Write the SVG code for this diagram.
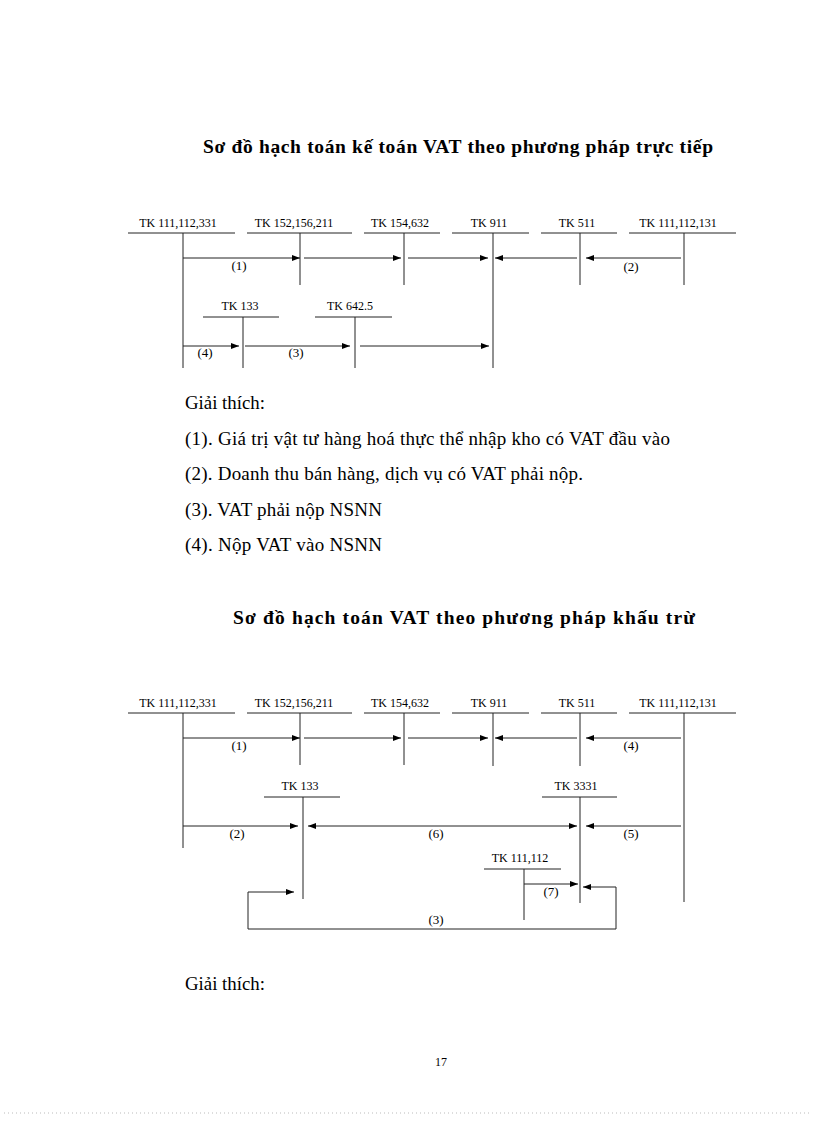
<svg xmlns="http://www.w3.org/2000/svg" width="816" height="1123" viewBox="0 0 816 1123">
<style>
text{font-family:"Liberation Serif","Times New Roman",serif;fill:#000}
.title{font-size:19.5px;font-weight:bold}
.body{font-size:19px}
.lbl{font-size:12px;text-anchor:middle}
.num{font-size:13px;text-anchor:middle}
.ln{stroke:#222;stroke-width:1;fill:none}
.ar{stroke:#222;stroke-width:1;fill:none;marker-end:url(#ah)}
.ar2{stroke:#222;stroke-width:1;fill:none;marker-end:url(#ah);marker-start:url(#ahs)}
</style>
<defs>
<marker id="ah" markerUnits="userSpaceOnUse" markerWidth="9" markerHeight="7" refX="8" refY="3" orient="auto"><path d="M0,0 L8,3 L0,6 z" fill="#000"/></marker>
<marker id="ahs" markerUnits="userSpaceOnUse" markerWidth="9" markerHeight="7" refX="8" refY="3" orient="auto-start-reverse"><path d="M0,0 L8,3 L0,6 z" fill="#000"/></marker>
</defs>
<rect width="816" height="1123" fill="#fff"/>

<text class="title" x="203" y="153" textLength="510" lengthAdjust="spacing">Sơ đồ hạch toán kế toán VAT theo phương pháp trực tiếp</text>

<g id="top-nodes">
<g id="t-a"><text class="lbl" x="178" y="227">TK 111,112,331</text><path class="ln" d="M128,233H235M183,233V368"/></g>
<g id="t-b"><text class="lbl" x="294" y="227">TK 152,156,211</text><path class="ln" d="M247,233H352M300,233V285"/></g>
<g id="t-c"><text class="lbl" x="400" y="227">TK 154,632</text><path class="ln" d="M364,233H440M404,233V285"/></g>
<g id="t-d"><text class="lbl" x="489" y="227">TK 911</text><path class="ln" d="M452,233H529M493,233V368"/></g>
<g id="t-e"><text class="lbl" x="577" y="227">TK 511</text><path class="ln" d="M541,233H617M580,233V285"/></g>
<g id="t-f"><text class="lbl" x="678" y="227">TK 111,112,131</text><path class="ln" d="M629,233H736M684,233V285"/></g>
<g id="t-g"><text class="lbl" x="240" y="310">TK 133</text><path class="ln" d="M203,317H279M243,317V368"/></g>
<g id="t-h"><text class="lbl" x="350" y="310">TK 642.5</text><path class="ln" d="M315,317H392M355,317V368"/></g>
</g>

<g id="top-connectors">
<path class="ar" d="M183,258H300"/>
<path class="ar" d="M304,258H401"/>
<path class="ar" d="M408,258H488"/>
<path class="ar" d="M577,258H495"/>
<path class="ar" d="M681,258H586"/>
<path class="ar" d="M183,346H239"/>
<path class="ar" d="M245,346H350"/>
<path class="ar" d="M360,346H489"/>
<text class="num" x="239" y="270">(1)</text>
<text class="num" x="631" y="271">(2)</text>
<text class="num" x="205" y="357">(4)</text>
<text class="num" x="296" y="357">(3)</text>
</g>

<g id="legend-top">
<text class="body" x="185" y="409" textLength="80" lengthAdjust="spacingAndGlyphs">Giải thích:</text>
<text class="body" x="185" y="445" textLength="485" lengthAdjust="spacing">(1). Giá trị vật tư hàng hoá thực thể nhập kho có VAT đầu vào</text>
<text class="body" x="185" y="480" textLength="398" lengthAdjust="spacing">(2). Doanh thu bán hàng, dịch vụ có VAT phải nộp.</text>
<text class="body" x="185" y="516" textLength="197" lengthAdjust="spacing">(3). VAT phải nộp NSNN</text>
<text class="body" x="185" y="551" textLength="197" lengthAdjust="spacing">(4). Nộp VAT vào NSNN</text>
</g>

<text class="title" x="233" y="624" textLength="462" lengthAdjust="spacing">Sơ đồ hạch toán VAT theo phương pháp khấu trừ</text>

<g id="bottom-nodes">
<g id="b-a"><text class="lbl" x="178" y="707">TK 111,112,331</text><path class="ln" d="M128,713H235M183,713V848"/></g>
<g id="b-b"><text class="lbl" x="294" y="707">TK 152,156,211</text><path class="ln" d="M247,713H352M300,713V765"/></g>
<g id="b-c"><text class="lbl" x="400" y="707">TK 154,632</text><path class="ln" d="M364,713H440M404,713V765"/></g>
<g id="b-d"><text class="lbl" x="489" y="707">TK 911</text><path class="ln" d="M452,713H529M493,713V766"/></g>
<g id="b-e"><text class="lbl" x="577" y="707">TK 511</text><path class="ln" d="M541,713H617M580,713V766"/></g>
<g id="b-f"><text class="lbl" x="678" y="707">TK 111,112,131</text><path class="ln" d="M629,713H736M684,713V902"/></g>
<g id="b-g"><text class="lbl" x="300" y="790">TK 133</text><path class="ln" d="M264,797H340M303,797V899"/></g>
<g id="b-h"><text class="lbl" x="576" y="790">TK 3331</text><path class="ln" d="M542,797H617M580,797V903"/></g>
<g id="b-i"><text class="lbl" x="520" y="862">TK 111,112</text><path class="ln" d="M484,869H561M524,869V920"/></g>
</g>

<g id="bottom-connectors">
<path class="ar" d="M183,738H300"/>
<path class="ar" d="M304,738H401"/>
<path class="ar" d="M408,738H488"/>
<path class="ar" d="M577,738H495"/>
<path class="ar" d="M681,738H586"/>
<path class="ar" d="M183,826H298"/>
<path class="ar2" d="M308,826H577"/>
<path class="ar" d="M681,826H586"/>
<path class="ar" d="M524,884H578"/>
<path class="ar2" d="M583,887H616V929H248V892H294"/>
<text class="num" x="239" y="750">(1)</text>
<text class="num" x="631" y="750">(4)</text>
<text class="num" x="237" y="838">(2)</text>
<text class="num" x="436" y="838">(6)</text>
<text class="num" x="631" y="838">(5)</text>
<text class="num" x="551" y="896">(7)</text>
<text class="num" x="436" y="924">(3)</text>
</g>

<text class="body" x="185" y="990" textLength="80" lengthAdjust="spacingAndGlyphs">Giải thích:</text>
<text class="lbl" x="441" y="1066">17</text>
<line x1="4" y1="1113" x2="812" y2="1113" stroke="#bbb" stroke-width="1" stroke-dasharray="1,3"/>
</svg>
